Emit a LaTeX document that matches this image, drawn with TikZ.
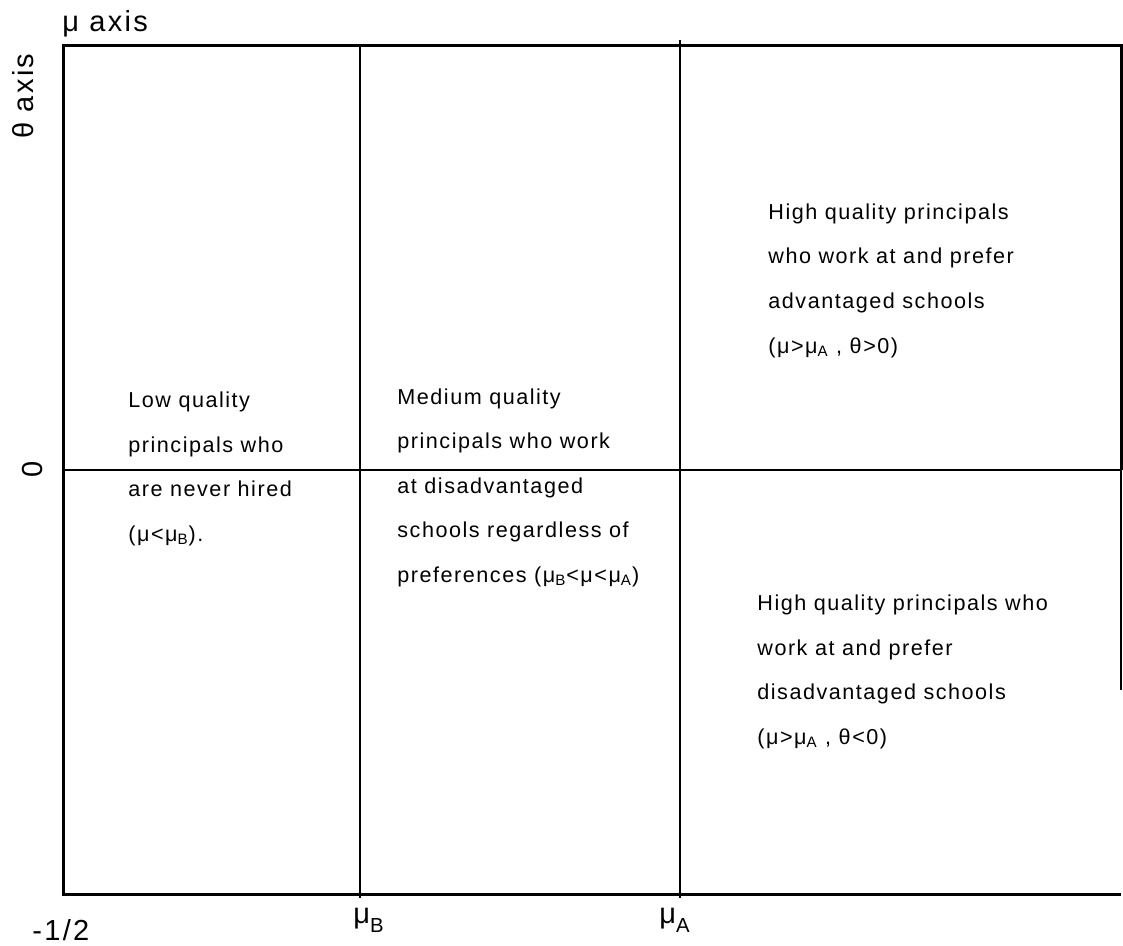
\documentclass[tikz,border=0pt]{standalone}
\usepackage{graphicx}
\usepackage{fontspec}
\setmainfont{Liberation Sans}
\newfontfamily\regionfont[LetterSpace=7]{Liberation Sans}
\newfontfamily\labelfont[LetterSpace=8]{Liberation Sans}
% low subscript for the tick labels
\newcommand*{\ticksub}[1]{\raisebox{-.32em}{\scalebox{.7}{#1}}}

\begin{document}
\begin{tikzpicture}[x=0.5pt, y=-0.5pt,
    region/.style={anchor=base west, align=left, inner sep=0pt, font=\regionfont\fontsize{10.8}{22.25}\selectfont},
    axislabel/.style={inner sep=0pt, font=\labelfont\fontsize{14.5}{17}\selectfont}]
    \newcommand*{\xleft}{63}
    \newcommand*{\xright}{1121}
    \newcommand*{\ytop}{46}
    \newcommand*{\ybot}{894}
    \newcommand*{\mub}{360}
    \newcommand*{\mua}{680}
    \newcommand*{\zeroline}{470}
    \useasboundingbox (0,0) rectangle (1123,946);
    % region borders
    \draw[line width=1pt] (\xleft,\zeroline) -- (\xright,\zeroline);
    \draw[line width=1pt] (\mub,\ytop) -- (\mub,\ybot+4);
    \draw[line width=1pt] (\mua,\ytop-6) -- (\mua,\ybot+4);
    % frame, open at the lower right
    \draw[line width=1.5pt] (\xright,\zeroline) -- (\xright,\ytop) -- (\xleft,\ytop) -- (\xleft,\ybot) -- (\xright,\ybot);
    \draw[line width=0.8pt] (\xright,\zeroline) -- (\xright,690);
    % axis labels and ticks
    \node[axislabel, anchor=base west] (muaxis) at (62,32) {μ axis};
    \node[axislabel, anchor=base, rotate=90] (thetaaxis) at (33,96) {θ axis};
    \node[axislabel, anchor=base, rotate=90] (zero) at (42,469) {0};
    \node[axislabel, anchor=base west] (half) at (32,940) {-1/2};
    \node[axislabel, anchor=base west] (mubtick) at (353,923) {μ\ticksub{B}};
    \node[axislabel, anchor=base west] (muatick) at (659,923) {μ\ticksub{A}};
    % the four regions (placed by the baseline of their last line)
    \node[region] (low) at (128,541) {Low quality\\principals who\\are never hired\\(μ<μ\textsubscript{B}).};
    \node[region] (medium) at (397,582) {Medium quality\\principals who work\\at disadvantaged\\schools regardless of\\preferences (μ\textsubscript{B}<μ<μ\textsubscript{A})};
    \node[region] (highadv) at (768,353) {High quality principals\\who work at and prefer\\advantaged schools\\(μ>μ\textsubscript{A} , θ>0)};
    \node[region] (highdis) at (757,744) {High quality principals who\\work at and prefer\\disadvantaged schools\\(μ>μ\textsubscript{A} , θ<0)};
\end{tikzpicture}
\end{document}
